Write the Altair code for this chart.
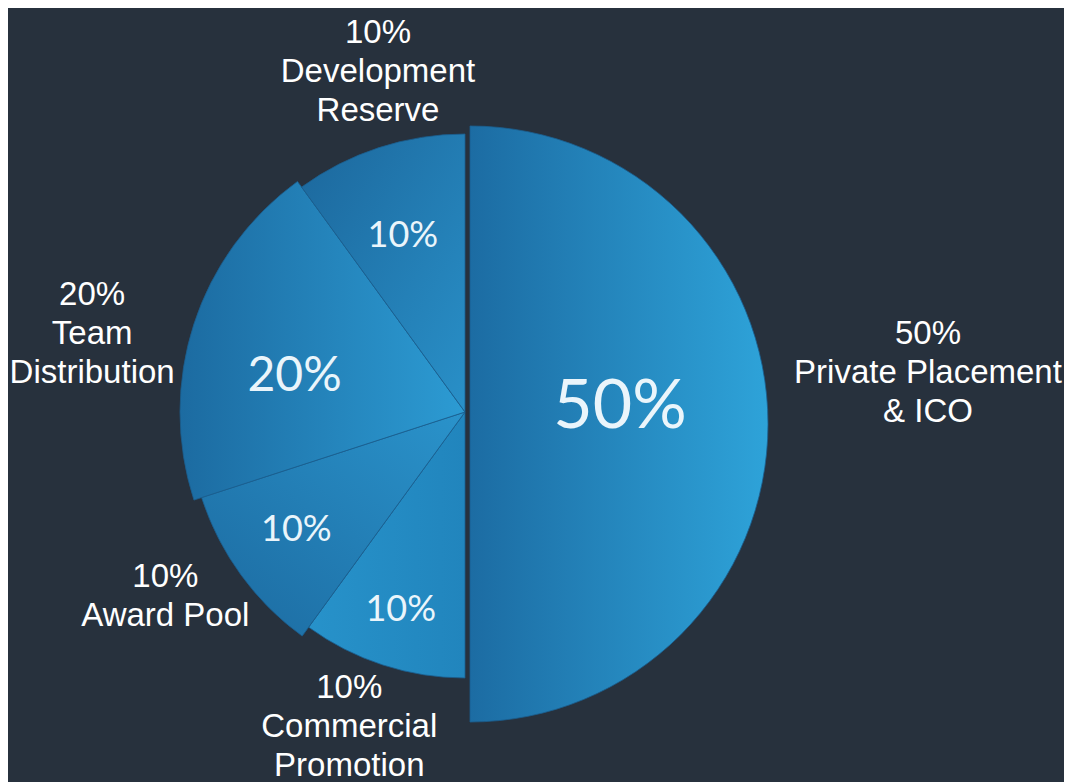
import math
import altair as alt
import pandas as pd

# ---- data ----
names = ["Private Placement & ICO", "Commercial Promotion", "Award Pool",
         "Team Distribution", "Development Reserve"]
values = [50, 10, 10, 20, 10]
pct_labels = ["50%", "10%", "10%", "20%", "10%"]
caption_lines = [["Private Placement", "& ICO"], ["Commercial", "Promotion"],
                 ["Award Pool"], ["Team", "Distribution"], ["Development", "Reserve"]]

df = pd.DataFrame({
    "name": names,
    "value": values,
    "pct": pct_labels,
    "caption": ["\n".join([p] + c) for p, c in zip(pct_labels, caption_lines)],
    "order": list(range(len(names))),
})

# ---- styles per slice (radius, offsets, gradient, label placement) ----
def grad(c0, c1, x1, y1, x2, y2):
    return alt.LinearGradient(
        gradient="linear",
        stops=[alt.GradientStop(color=c0, offset=0), alt.GradientStop(color=c1, offset=1)],
        x1=x1, y1=y1, x2=x2, y2=y2,
    )

styles = {
    "Private Placement & ICO": dict(r=298, xo=5, yo=12, fill=grad("#1c6ca3", "#2ea3d9", 0, 0, 1, 0),
                                     ir=155, idx=0, idy=-4, ifs=68,
                                     orr=463, odx=0, ody=-78),
    "Commercial Promotion": dict(r=266, xo=0, yo=0, fill=grad("#2792ca", "#2185bd", 0, 0, 1, 0),
                                 ir=208, idx=0, idy=0, ifs=36,
                                 orr=300, odx=-23, ody=-9),
    "Award Pool": dict(r=277, xo=0, yo=0, fill=grad("#1c6aa0", "#2a93cb", 0, 1, 1, 0),
                       ir=206, idx=-2, idy=-3, ifs=36,
                       orr=342, odx=-23, ody=-36),
    "Team Distribution": dict(r=285, xo=0, yo=0, fill=grad("#1c6ba1", "#2c9bd3", 0, 0, 1, 0),
                              ir=175, idx=-4, idy=19, ifs=48,
                              orr=391, odx=-1, ody=4),
    "Development Reserve": dict(r=278, xo=0, yo=0, fill=grad("#1c679c", "#2990c8", 0, 0, 1, 1),
                                ir=185, idx=-5, idy=0, ifs=36,
                                orr=398, odx=36, ody=0),
}

theta_scale = alt.Scale(domain=[0, 100], range=[0, 2 * math.pi])

base = alt.Chart(df).transform_window(
    end="sum(value)", sort=[alt.SortField("order")], frame=[None, 0]
).transform_calculate(
    start="datum.end - datum.value",
    mid="datum.end - datum.value / 2",
)

arc_layers = []
text_layers = []
draw_order = names[1:] + names[:1]
for n in draw_order:
    s = styles[n]
    sub = base.transform_filter(alt.datum.name == n)
    arc_layers.append(
        sub.mark_arc(radius=s["r"], xOffset=s["xo"], yOffset=s["yo"], fill=s["fill"],
                     stroke="#1a5e8e", strokeWidth=1, strokeOpacity=0.8).encode(
            theta=alt.Theta("start:Q", scale=theta_scale),
            theta2="end:Q",
        )
    )
    text_layers.append(
        sub.mark_text(radius=s["ir"], dx=s["idx"], dy=s["idy"], fontSize=s["ifs"],
                      font="Lato", fontWeight="normal", color="#eaf5fb",
                      align="center", baseline="middle").encode(
            theta=alt.Theta("mid:Q", scale=theta_scale),
            text="pct:N",
        )
    )
    text_layers.append(
        sub.mark_text(radius=s["orr"], dx=s["odx"], dy=s["ody"], fontSize=33,
                      font="Liberation Sans", color="#ffffff", lineBreak="\n",
                      lineHeight=39, align="center", baseline="middle").encode(
            theta=alt.Theta("mid:Q", scale=theta_scale),
            text="caption:N",
        )
    )

chart = alt.layer(*arc_layers, *text_layers).properties(
    width=914,
    height=708,
    padding={"left": 0, "top": 50, "right": 142, "bottom": 16},
    autosize="none",
    background="#27313d",
).configure_view(stroke=None)

chart.save("out.html", embed_options={"renderer": "svg", "actions": False})
